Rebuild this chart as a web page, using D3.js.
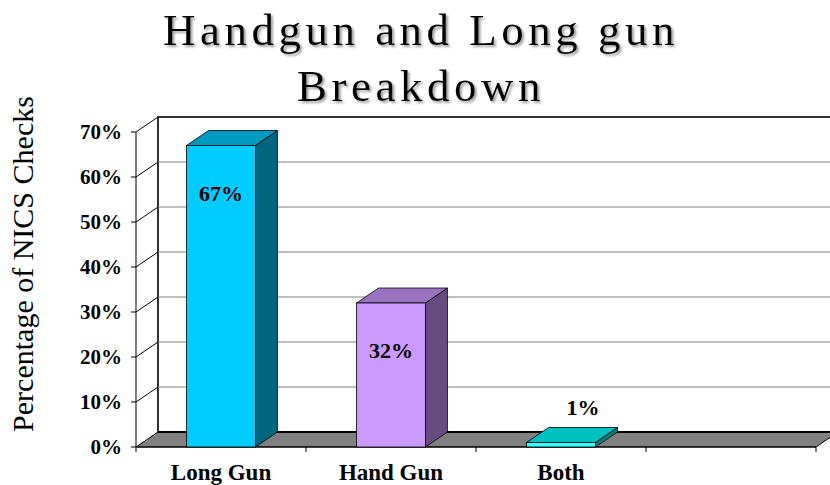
<!DOCTYPE html>
<html>
<head>
<meta charset="utf-8">
<script src="https://cdn.jsdelivr.net/npm/d3@7"></script>
<style>
  body { margin: 0; background: #fff; }
  svg { display: block; }
</style>
</head>
<body>
<svg id="chart" width="830" height="485"></svg>
<script>
const categories = ["Long Gun", "Hand Gun", "Both", ""];
const values = [67, 32, 1, null];
const labels = ["67%", "32%", "1%", ""];
const yTicks = [0, 10, 20, 30, 40, 50, 60, 70];
const frontColors = ["#00CCFF", "#CC99FF", "#33FFFF"];
const topColors = ["#0099C0", "#9973BF", "#00C0C0"];
const sideColors = ["#006680", "#664C80", "#008080"];

const svg = d3.select("#chart");
const serif = "'Liberation Serif', 'Times New Roman', serif";

// 3d offset of the back plane
const dx = 22, dy = -15;

const x = d3.scaleBand().domain(categories).range([136, 816]);
const y = d3.scaleLinear().domain([0, 70]).range([447, 132]);
const barW = x.bandwidth() * 0.405;

const x0 = x.range()[0], x1 = x.range()[1];

// soft shadow for the title
svg.append("defs").append("filter")
  .attr("id", "shadow")
  .attr("x", "-5%").attr("y", "-20%").attr("width", "110%").attr("height", "140%")
  .append("feDropShadow")
  .attr("dx", 2).attr("dy", 2).attr("stdDeviation", 0.8)
  .attr("flood-color", "#888").attr("flood-opacity", 0.8);

const titleLines = [
  { t: "Handgun and Long gun", y: 45 },
  { t: "Breakdown", y: 101 }
];
svg.selectAll(".title")
  .data(titleLines).enter().append("text")
  .attr("x", 421).attr("y", d => d.y)
  .attr("text-anchor", "middle")
  .attr("filter", "url(#shadow)")
  .style("font-family", serif).style("font-size", "45px")
  .style("letter-spacing", "4.5px")
  .text(d => d.t);

// y axis title
svg.append("text")
  .attr("transform", "translate(33,264) rotate(-90)")
  .attr("text-anchor", "middle")
  .style("font-family", serif).style("font-size", "30px")
  .text("Percentage of NICS Checks");

// back wall
svg.append("rect")
  .attr("x", x0 + dx).attr("y", y(70) + dy)
  .attr("width", x1 - x0).attr("height", y(0) - y(70))
  .attr("fill", "#fff").attr("stroke", "#000").attr("stroke-width", 1.6);

// side wall outline
svg.append("path")
  .attr("d", `M${x0},${y(0)} L${x0},${y(70)} L${x0 + dx},${y(70) + dy}`)
  .attr("fill", "none").attr("stroke", "#000").attr("stroke-width", 1);

// gridlines
const grid = yTicks.filter(v => v > 0 && v < 70);
svg.selectAll(".grid")
  .data(grid).enter().append("line")
  .attr("x1", x0 + dx).attr("x2", x1 + dx)
  .attr("y1", d => y(d) + dy).attr("y2", d => y(d) + dy)
  .attr("stroke", "#808080").attr("stroke-width", 1);
svg.selectAll(".diag")
  .data(grid).enter().append("line")
  .attr("x1", x0).attr("x2", x0 + dx)
  .attr("y1", d => y(d)).attr("y2", d => y(d) + dy)
  .attr("stroke", "#000").attr("stroke-width", 1);

// floor
svg.append("path")
  .attr("d", `M${x0},${y(0)} L${x1},${y(0)} L${x1 + dx},${y(0) + dy} L${x0 + dx},${y(0) + dy} Z`)
  .attr("fill", "#808080").attr("stroke", "#000").attr("stroke-width", 1);
svg.append("line")
  .attr("x1", x0 + dx).attr("x2", x1 + dx)
  .attr("y1", y(0) + dy).attr("y2", y(0) + dy)
  .attr("stroke", "#000").attr("stroke-width", 2);

// y ticks + labels
svg.selectAll(".ytick")
  .data(yTicks).enter().append("line")
  .attr("x1", x0 - 5).attr("x2", x0)
  .attr("y1", d => y(d)).attr("y2", d => y(d))
  .attr("stroke", "#000");
svg.selectAll(".ylab")
  .data(yTicks).enter().append("text")
  .attr("x", 122).attr("y", d => y(d) + 7)
  .attr("text-anchor", "end")
  .style("font-family", serif).style("font-size", "21px").style("font-weight", "bold")
  .text(d => d + "%");

// x ticks
const xEdges = categories.map(c => x(c)).concat([x1]);
svg.selectAll(".xtick")
  .data(xEdges).enter().append("line")
  .attr("x1", d => d).attr("x2", d => d)
  .attr("y1", y(0)).attr("y2", y(0) + 5)
  .attr("stroke", "#000");
svg.append("line")
  .attr("x1", x0).attr("x2", x1).attr("y1", y(0)).attr("y2", y(0))
  .attr("stroke", "#000");

// bars
const barData = categories.map((c, i) => ({ c, v: values[i], i, label: labels[i] }))
  .filter(d => d.v != null);

const bars = svg.selectAll(".bar").data(barData).enter().append("g");
bars.each(function (d) {
  const g = d3.select(this);
  const left = x(d.c) + (x.bandwidth() - barW) / 2;
  const right = left + barW;
  const top = y(d.v), bot = y(0);
  g.append("path")
    .attr("d", `M${right},${bot} L${right + dx},${bot + dy} L${right + dx},${top + dy} L${right},${top} Z`)
    .attr("fill", sideColors[d.i]).attr("stroke", "#000").attr("stroke-width", 0.8);
  g.append("path")
    .attr("d", `M${left},${top} L${right},${top} L${right + dx},${top + dy} L${left + dx},${top + dy} Z`)
    .attr("fill", topColors[d.i]).attr("stroke", "#000").attr("stroke-width", 0.8);
  g.append("rect")
    .attr("x", left).attr("y", top).attr("width", barW).attr("height", bot - top)
    .attr("fill", frontColors[d.i]).attr("stroke", "#000").attr("stroke-width", 0.8);
});

// data labels
bars.append("text")
  .attr("x", d => d.v > 10 ? x(d.c) + x.bandwidth() / 2 : x(d.c) + x.bandwidth() / 2 + dx)
  .attr("y", d => d.v > 10 ? y(d.v) + 55 : y(d.v) + dy - 13)
  .attr("text-anchor", "middle")
  .style("font-family", serif).style("font-size", "22px").style("font-weight", "bold")
  .text(d => d.label);

// category labels
svg.selectAll(".xlab")
  .data(categories).enter().append("text")
  .attr("x", d => x(d) + x.bandwidth() / 2)
  .attr("y", 480)
  .attr("text-anchor", "middle")
  .style("font-family", serif).style("font-size", "23px").style("font-weight", "bold")
  .text(d => d);
</script>
</body>
</html>
